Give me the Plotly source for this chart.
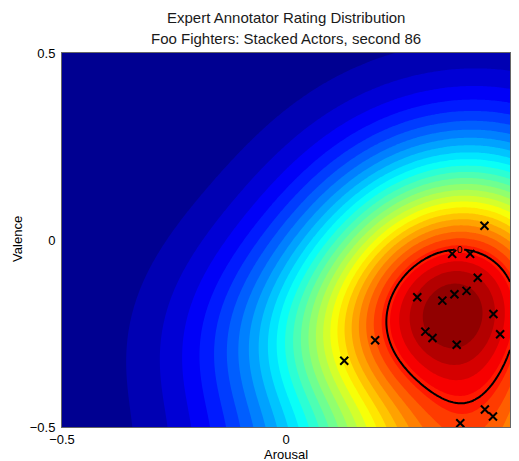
import numpy as np
import plotly.graph_objects as go

# ---- data ----
arousal = [0.443, 0.371, 0.411, 0.428, 0.403, 0.376, 0.349, 0.293, 0.463,
           0.478, 0.311, 0.327, 0.381, 0.199, 0.130, 0.444, 0.462, 0.389]
valence = [0.038, -0.037, -0.037, -0.101, -0.136, -0.145, -0.162, -0.153, -0.198,
           -0.252, -0.245, -0.262, -0.280, -0.268, -0.323, -0.453, -0.472, -0.490]
# ratings that the drawn contour passes through
contour_points = [1, 2, 9, 13, 17]

title_lines = ["Expert Annotator Rating Distribution",
               "Foo Fighters: Stacked Actors, second 86"]
x_label = "Arousal"
y_label = "Valence"
tick_vals = [-0.5, 0, 0.5]
tick_text = ["\u22120.5", "0", "0.5"]

# kernel density estimate (partly reflected at the lower valence bound),
# shown on a square-root colour scale
bandwidth = 0.16
valence_floor = -0.5
reflection_weight = 0.6
display_power = 0.5
n_levels = 30

# ---- density field from the ratings ----
ax = np.array(arousal)
va = np.array(valence)
gx = np.linspace(-0.5, 0.5, 221)
gy = np.linspace(-0.5, 0.5, 221)
GX, GY = np.meshgrid(gx, gy)


def kde(x, y):
    out = 0.0
    for vv, w in ((va, 1.0), (2 * valence_floor - va, reflection_weight)):
        dx = x[..., None] - ax
        dy = y[..., None] - vv
        out = out + w * np.sum(np.exp(-(dx * dx + dy * dy) / (2 * bandwidth ** 2)), axis=-1)
    return out


F = kde(GX, GY)
Z = F ** display_power
zmin, zmax = float(Z.min()), float(Z.max())
level = float(np.mean(kde(ax[contour_points], va[contour_points])))

jet = [[0.0, "rgb(0,0,128)"], [0.125, "rgb(0,0,255)"], [0.375, "rgb(0,255,255)"],
       [0.625, "rgb(255,255,0)"], [0.875, "rgb(255,0,0)"], [1.0, "rgb(128,0,0)"]]

fig = go.Figure()
fig.add_trace(go.Contour(
    x=gx, y=gy, z=Z, colorscale=jet, zmin=zmin, zmax=zmax,
    contours=dict(start=zmin, end=zmax, size=(zmax - zmin) / n_levels,
                  coloring="fill", showlines=False),
    line=dict(width=0), showscale=False, hoverinfo="skip"))
fig.add_trace(go.Contour(
    x=gx, y=gy, z=F - level,
    contours=dict(start=0, end=0, size=1, coloring="none", showlabels=True,
                  labelfont=dict(size=10, color="black", family="Liberation Sans")),
    line=dict(color="black", width=2), showscale=False, hoverinfo="skip"))
fig.add_trace(go.Scatter(
    x=arousal, y=valence, mode="markers",
    marker=dict(symbol="x-thin", size=8, line=dict(color="black", width=2)),
    showlegend=False))

font = dict(family="Liberation Sans, Arial, sans-serif", size=13, color="black")
title_font = dict(family="Liberation Sans, Arial, sans-serif", size=15, color="#1a1a1a")
fig.update_layout(
    width=519, height=461,
    margin=dict(l=62, r=9, t=53, b=34),
    paper_bgcolor="white", plot_bgcolor="white",
    font=font, showlegend=False,
    annotations=[
        dict(text=title_lines[0], xref="paper", yref="paper", x=0.5, y=1.0936,
             xanchor="center", yanchor="middle", showarrow=False, font=title_font),
        dict(text=title_lines[1], xref="paper", yref="paper", x=0.5, y=1.0401,
             xanchor="center", yanchor="middle", showarrow=False, font=title_font),
        dict(text=x_label, xref="paper", yref="paper", x=0.5, y=-0.0735,
             xanchor="center", yanchor="middle", showarrow=False, font=font),
        dict(text=y_label, xref="paper", yref="paper", x=-0.0982, y=0.503,
             xanchor="center", yanchor="middle", textangle=-90, showarrow=False,
             font=font),
    ],
)
fig.update_xaxes(range=[-0.5, 0.5], tickvals=tick_vals, ticktext=tick_text,
                 showgrid=False, zeroline=False, showline=True, mirror=True,
                 linecolor="#666", linewidth=1, ticks="", ticklabelstandoff=0,
                 tickfont=font, automargin=False)
fig.update_yaxes(range=[-0.5, 0.5], tickvals=tick_vals, ticktext=tick_text,
                 showgrid=False, zeroline=False, showline=True, mirror=True,
                 linecolor="#666", linewidth=1, ticks="", ticklabelstandoff=3,
                 tickfont=font, automargin=False)

fig.write_html("out.html")
